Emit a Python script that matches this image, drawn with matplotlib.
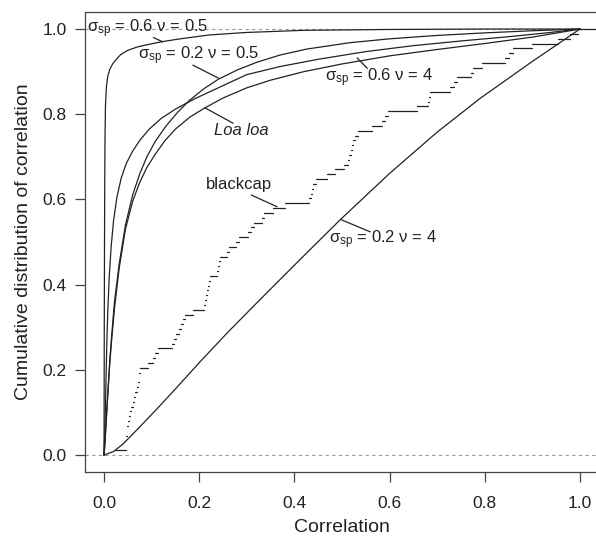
import numpy as np
import matplotlib
matplotlib.use("Agg")
import matplotlib.pyplot as plt

plt.rcParams['font.family'] = ['Liberation Sans', 'DejaVu Sans']
plt.rcParams['mathtext.fontset'] = 'custom'
plt.rcParams['mathtext.rm'] = 'Liberation Sans'
plt.rcParams['mathtext.it'] = 'Liberation Sans:italic'
plt.rcParams['mathtext.sf'] = 'Liberation Sans'

# ---------------- data ----------------
# sigma_sp = 0.6, nu = 0.5
x_s06_n05 = [0, 0.0005, 0.001, 0.0015, 0.002, 0.003, 0.005, 0.008, 0.012, 0.018, 0.025, 0.035,
             0.05, 0.07, 0.09, 0.12, 0.16, 0.22, 0.3, 0.42, 0.6, 0.8, 1.0]
y_s06_n05 = [0, 0.30, 0.50, 0.64, 0.74, 0.82, 0.865, 0.89, 0.905, 0.918, 0.928, 0.94,
             0.95, 0.958, 0.963, 0.970, 0.977, 0.986, 0.992, 0.997, 0.999, 1.0, 1.0]

# sigma_sp = 0.6, nu = 4
x_s06_n4 = [0, 0.002, 0.004, 0.006, 0.008, 0.011, 0.015, 0.02, 0.027, 0.036, 0.047, 0.06,
            0.076, 0.095, 0.12, 0.15, 0.19, 0.24, 0.30, 0.37, 0.45, 0.55, 0.65, 0.75,
            0.85, 0.93, 1.0]
y_s06_n4 = [0, 0.07, 0.17, 0.27, 0.34, 0.42, 0.49, 0.55, 0.605, 0.65, 0.685, 0.713,
            0.74, 0.765, 0.79, 0.812, 0.836, 0.862, 0.893, 0.912, 0.929, 0.947, 0.961, 0.972,
            0.982, 0.991, 1.0]

# sigma_sp = 0.2, nu = 0.5
x_s02_n05 = [0, 0.002, 0.004, 0.008, 0.012, 0.016, 0.022, 0.032, 0.045, 0.06, 0.075, 0.09,
             0.107, 0.13, 0.155, 0.18, 0.21, 0.24, 0.28, 0.321, 0.37, 0.426, 0.517, 0.6,
             0.7, 0.8, 0.9, 1.0]
y_s02_n05 = [0, 0.03, 0.07, 0.145, 0.22, 0.28, 0.36, 0.45, 0.54, 0.61, 0.66, 0.70,
             0.735, 0.772, 0.805, 0.833, 0.86, 0.882, 0.904, 0.922, 0.939, 0.953, 0.968, 0.977,
             0.985, 0.991, 0.996, 1.0]

# Loa loa
x_loa = [0, 0.002, 0.004, 0.008, 0.012, 0.016, 0.022, 0.032, 0.045, 0.06, 0.075, 0.09,
         0.107, 0.128, 0.15, 0.18, 0.212, 0.25, 0.3, 0.35, 0.42, 0.5, 0.6, 0.7, 0.8, 0.9, 1.0]
y_loa = [0, 0.03, 0.07, 0.145, 0.215, 0.27, 0.345, 0.44, 0.53, 0.595, 0.64, 0.675,
         0.705, 0.738, 0.765, 0.793, 0.815, 0.838, 0.862, 0.88, 0.90, 0.918, 0.937, 0.952,
         0.966, 0.981, 1.0]

# sigma_sp = 0.2, nu = 4
x_s02_n4 = [0, 0.02, 0.041, 0.07, 0.111, 0.15, 0.202, 0.26, 0.328, 0.412, 0.496, 0.6,
            0.7, 0.79, 0.9, 1.0]
y_s02_n4 = [0, 0.008, 0.027, 0.060, 0.108, 0.155, 0.219, 0.288, 0.365, 0.459, 0.552, 0.661,
            0.758, 0.837, 0.924, 1.0]

# blackcap: sorted correlation values (empirical CDF)
blackcap = [0.023, 0.046, 0.0465, 0.047, 0.048, 0.049, 0.050, 0.052, 0.054, 0.057,
            0.060, 0.063, 0.066, 0.069, 0.072, 0.073, 0.0745, 0.076, 0.093, 0.103,
            0.108, 0.113, 0.143, 0.147, 0.152, 0.157, 0.162, 0.166, 0.170, 0.187,
            0.210, 0.213, 0.215, 0.217, 0.219, 0.221, 0.223, 0.237, 0.239, 0.241,
            0.243, 0.258, 0.262, 0.278, 0.283, 0.303, 0.308, 0.315, 0.332, 0.337,
            0.355, 0.380, 0.430, 0.434, 0.437, 0.440, 0.445, 0.468, 0.485, 0.505,
            0.512, 0.515, 0.518, 0.521, 0.524, 0.528, 0.534, 0.563, 0.584, 0.590,
            0.597, 0.658, 0.681, 0.683, 0.685, 0.727, 0.735, 0.742, 0.770, 0.776,
            0.794, 0.842, 0.850, 0.860, 0.899, 0.954, 0.980, 0.995]

x_ticks = [0.0, 0.2, 0.4, 0.6, 0.8, 1.0]
y_ticks = [0.0, 0.2, 0.4, 0.6, 0.8, 1.0]
tick_labels = ["0.0", "0.2", "0.4", "0.6", "0.8", "1.0"]

# ---------------- figure ----------------
W, H = 596, 540
fig = plt.figure(figsize=(W / 100, H / 100), dpi=100)
L, R, T, B = 85, 599, 12, 472
ax = fig.add_axes([L / W, 1 - B / H, (R - L) / W, (B - T) / H])
ax.set_xlim(-0.04, 1.04)
ax.set_ylim(-0.04, 1.04)

ink = '#222222'
lw = 0.9

# reference lines at 0 and 1
for h in (0.0, 1.0):
    ax.axhline(h, color='#999999', lw=0.8, ls=(0, (3, 3)), zorder=1)

# blackcap ECDF (horizontal segments only)
bx = np.array(blackcap)
n = len(bx)
by = np.arange(1, n + 1) / n
x_right = np.append(bx[1:], 1.1)
ax.hlines(by, bx, x_right, colors=ink, lw=lw, capstyle='round', zorder=2)

# model curves
for xs, ys in [(x_s06_n05, y_s06_n05), (x_s06_n4, y_s06_n4), (x_s02_n05, y_s02_n05),
               (x_loa, y_loa), (x_s02_n4, y_s02_n4)]:
    ax.plot(xs, ys, color=ink, lw=lw, solid_joinstyle='round', zorder=3)

# labels with pointers
fs = 12
def label(text, xy_text, seg, ha='center', style='normal'):
    ax.text(xy_text[0], xy_text[1], text, ha=ha, va='center', fontsize=fs,
            color=ink, style=style, zorder=4)
    ax.plot([seg[0], seg[2]], [seg[1], seg[3]], color=ink, lw=lw, zorder=4)

label(r"σ$_{\mathrm{sp}}$ = 0.6 ν = 0.5", (-0.035, 1.0), (0.104, 0.980, 0.123, 0.970), ha='left')
label(r"σ$_{\mathrm{sp}}$ = 0.2 ν = 0.5", (0.200, 0.937), (0.187, 0.915, 0.240, 0.885))
label(r"σ$_{\mathrm{sp}}$ = 0.6 ν = 4", (0.577, 0.885), (0.532, 0.932, 0.553, 0.908))
label("Loa loa", (0.289, 0.761), (0.212, 0.815, 0.271, 0.779), style='italic')
label("blackcap", (0.284, 0.634), (0.310, 0.610, 0.363, 0.583))
label(r"σ$_{\mathrm{sp}}$ = 0.2 ν = 4", (0.586, 0.505), (0.499, 0.552, 0.559, 0.524))

# axes styling
ax.set_xticks(x_ticks)
ax.set_xticklabels(tick_labels)
ax.set_yticks(y_ticks)
ax.set_yticklabels(tick_labels)
ax.tick_params(axis='both', direction='out', length=7, width=0.9, colors='#444444',
               labelsize=12.5, labelcolor=ink)
ax.tick_params(axis='x', pad=10)
ax.tick_params(axis='y', pad=6)
for s in ax.spines.values():
    s.set_color('#444444')
    s.set_linewidth(0.9)

ax.set_xlabel("Correlation", fontsize=14, color=ink, labelpad=6)
ax.set_ylabel("Cumulative distribution of correlation", fontsize=14, color=ink, labelpad=8)

fig.savefig("out.png", dpi=100)
